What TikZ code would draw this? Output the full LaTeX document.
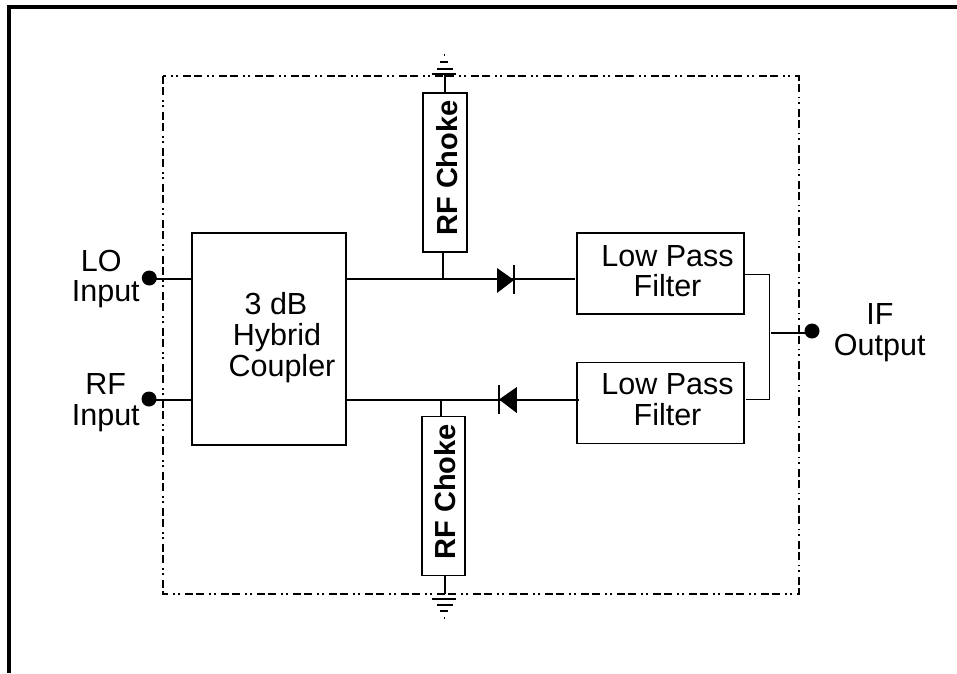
\documentclass[tikz,border=0pt]{standalone}
\usepackage{fontspec}
\setmainfont{Liberation Sans}
\tikzset{
  x=1pt,y=-1pt,
  wire/.style={line width=1.9pt},
  thinwire/.style={line width=1.1pt},
  boxed/.style={draw,line width=1.6pt,inner sep=0pt,outer sep=0pt,fill=none},
  choke/.style={boxed,minimum width=43pt,minimum height=159pt},
  filterbox/.style={boxed,minimum width=167pt,minimum height=81pt},
  lbl/.style={font=\fontsize{30.5}{30}\selectfont,inner sep=0pt,anchor=base},
  chokelbl/.style={font=\fontsize{29}{29}\selectfont\bfseries,inner sep=0pt,rotate=90,anchor=base},
  port/.style={circle,fill=black,draw=none,minimum size=15pt,inner sep=0pt},
  diodeshape/.style={fill=black,draw=none},
  enclosure/.style={line width=2pt,dash pattern=on 8pt off 3pt on 8pt off 5pt on 1.8pt off 3.4pt on 1.8pt off 5pt},
  gbar/.style={line width=1.9pt},
}
\begin{document}
\begin{tikzpicture}
\useasboundingbox (0,0) rectangle (957,673);
% outer frame
\coordinate (fa) at (9,673); \coordinate (fb) at (9,7); \coordinate (fc) at (957,7);
\draw[line width=3.8pt,miter limit=10] (fa) -- (fb) -- (fc);
% enclosure
\coordinate (e1) at (163,76); \coordinate (e2) at (798.5,594);
\draw[enclosure] (e1) rectangle (e2);
% boxes
\node[boxed,minimum width=154pt,minimum height=212pt] (hyb) at (269,339) {};
\node[choke,minimum width=44pt] (ch1) at (445,172.5) {};
\node[choke] (ch2) at (443.5,496) {};
\node[filterbox] (lp1) at (660.5,273.5) {};
\node[filterbox] (lp2) at (660.5,403) {};
% ports
\node[port] (lo) at (149.3,278) {};
\node[port] (rf) at (149,399) {};
\node[port] (if) at (812,331) {};
% wires
\coordinate (loEnd) at (hyb.west |- 0,279);
\coordinate (rfEnd) at (hyb.west |- 0,400);
\draw[wire] (lo.center |- loEnd) -- (loEnd);
\draw[wire] (rf.center |- rfEnd) -- (rfEnd);
\coordinate (h1) at (hyb.east |- 0,279);
\coordinate (h2) at (hyb.east |- 0,400);
\coordinate (l1) at (575,279);
\coordinate (l2) at (578.5,400);
\draw[wire] (h1) -- (l1);
\draw[wire] (h2) -- (l2);
\coordinate (j1) at (443,279);
\coordinate (j2) at (441,400);
\draw[wire] (j1) -- (j1 |- ch1.south);
\draw[wire] (j2) -- (j2 |- ch2.north);
% diodes
\fill[diodeshape] (497,268) -- (514,280) -- (497,293) -- cycle;
\coordinate (d1a) at (514,265); \coordinate (d1b) at (514,293.5);
\draw[wire] (d1a) -- (d1b);
\fill[diodeshape] (516.8,387) -- (499,399.5) -- (516.8,413) -- cycle;
\coordinate (d2a) at (499,385); \coordinate (d2b) at (499,413.5);
\draw[wire] (d2a) -- (d2b);
% combiner
\coordinate (c1) at (769.5,274.5);
\coordinate (c2) at (769.5,399.5);
\coordinate (c3) at (746,399.5);
\draw[thinwire] (lp1.east |- c1) -- (c1) -- (c2) -- (c3);
\coordinate (c4) at (771,332.7);
\draw[wire] (c4) -- (if.center |- c4);
% grounds
\coordinate (g1) at (445,73.5);
\coordinate (g2) at (445,599);
\draw[wire] (ch1.north) -- (g1);
\draw[wire] (ch2.south -| g2) -- (g2 |- e2);
\draw[gbar] (432,74) -- (456,74);
\draw[gbar] (437,69) -- (453,69);
\draw[gbar] (440,62) -- (448,62);
\draw[gbar] (444,55) -- (445,55);
\draw[gbar] (432,599) -- (456,599);
\draw[gbar] (437,604.7) -- (453,604.7);
\draw[gbar] (440,611) -- (448,611);
\draw[gbar] (444,617.7) -- (445,617.7);
% labels
\node[lbl] (t1) at (101.3,271.5) {LO};
\node[lbl] (t2) at (105.8,301.5) {Input};
\node[lbl] (t3) at (105.8,394) {RF};
\node[lbl] (t4) at (105.8,425) {Input};
\node[lbl] (t5) at (276,314.5) {3 dB};
\node[lbl] (t6) at (277,345.5) {Hybrid};
\node[lbl] (t7) at (282,376) {Coupler};
\node[lbl] (t8) at (667.5,266) {Low Pass};
\node[lbl] (t9) at (667.5,296.5) {Filter};
\node[lbl] (t10) at (667.5,394.5) {Low Pass};
\node[lbl] (t11) at (667.5,425) {Filter};
\node[lbl] (t12) at (880,324.3) {IF};
\node[lbl] (t13) at (879.7,355) {Output};
\node[chokelbl] (t14) at (457,168) {RF Choke};
\node[chokelbl] (t15) at (455,491.7) {RF Choke};
\end{tikzpicture}
\end{document}
